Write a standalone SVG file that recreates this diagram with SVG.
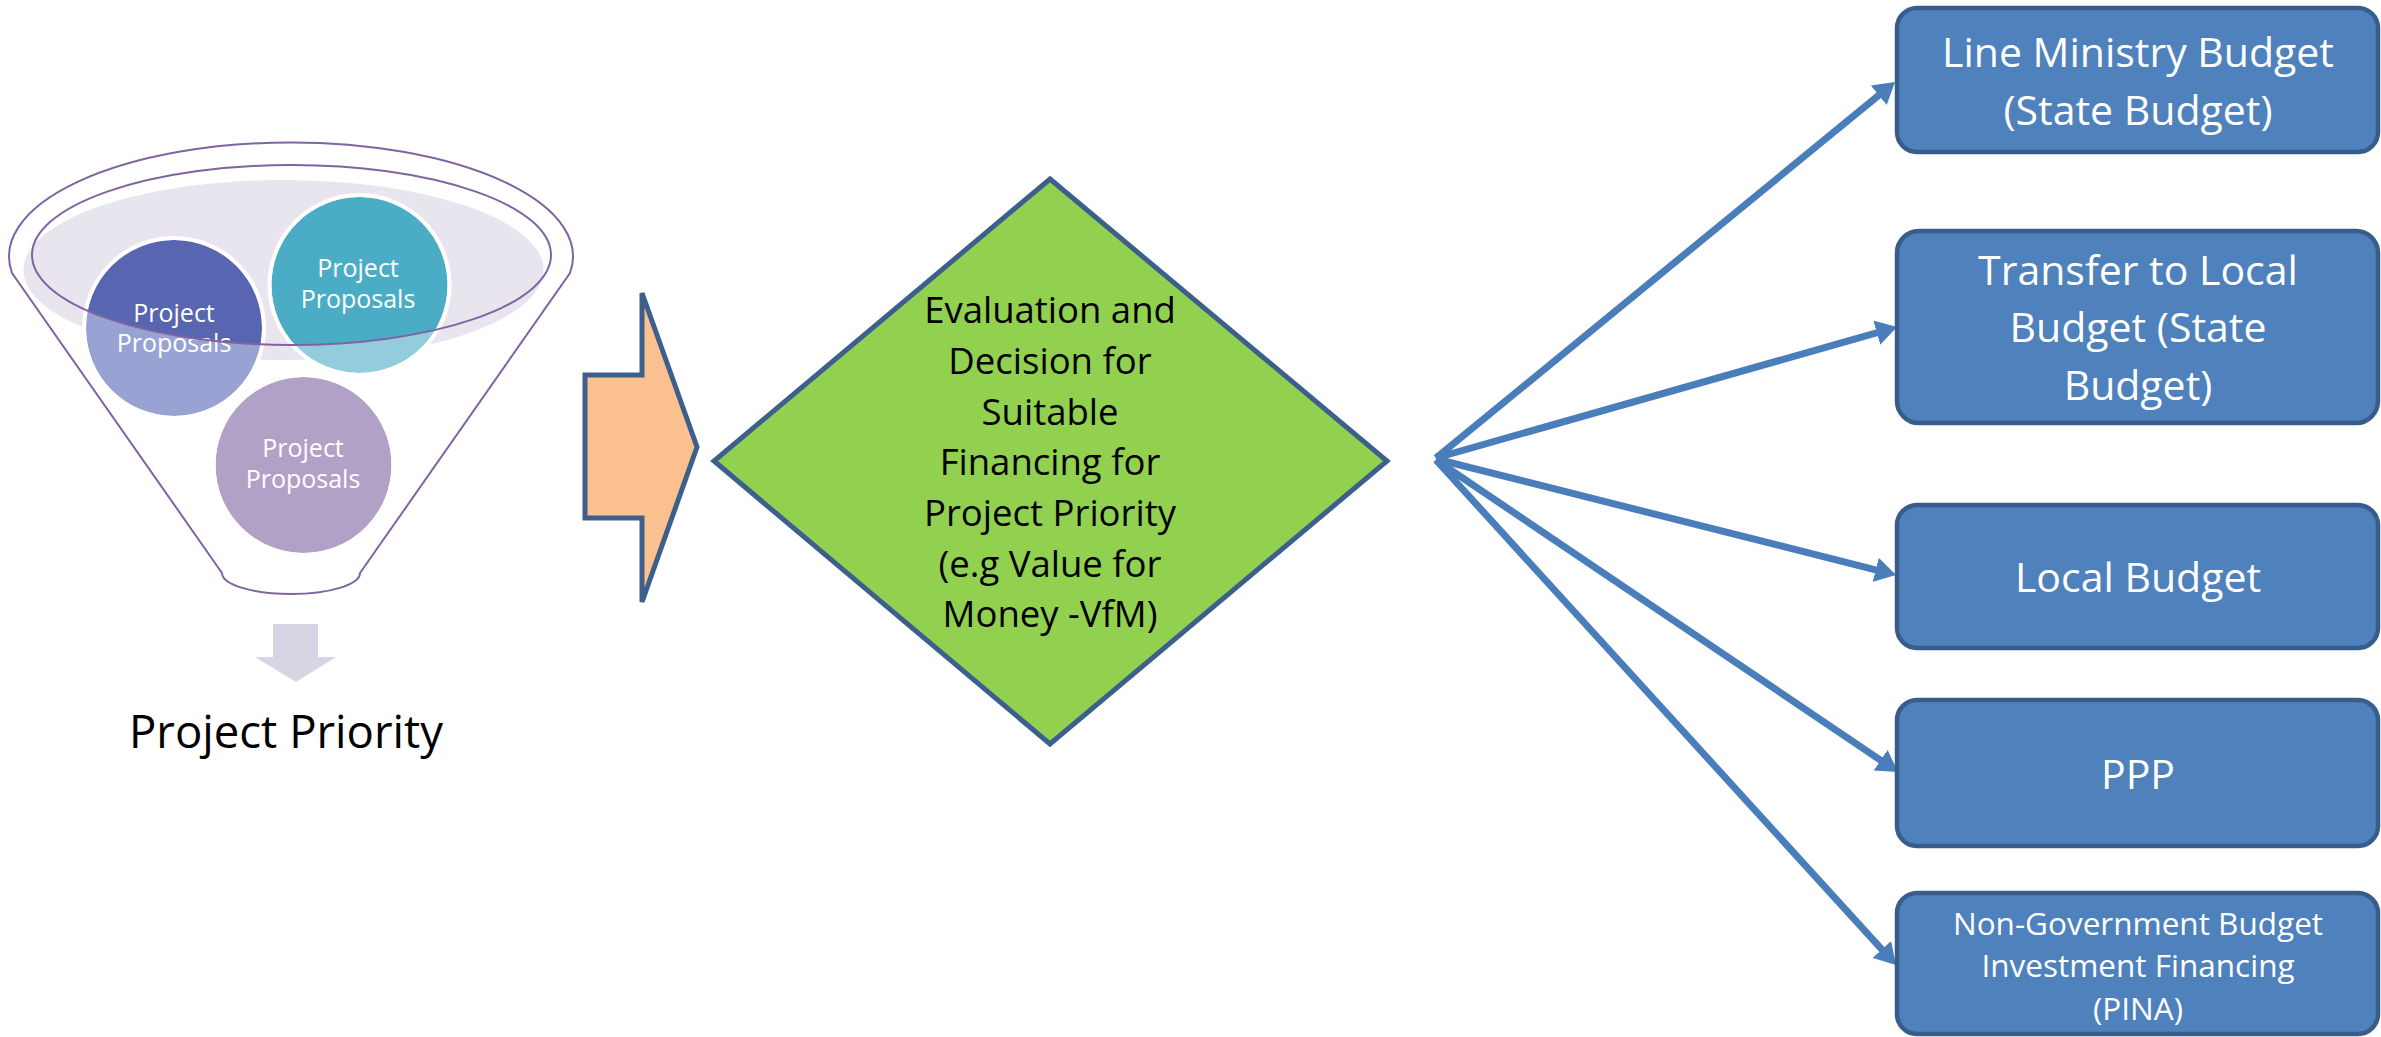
<svg xmlns="http://www.w3.org/2000/svg" width="2381" height="1037" viewBox="0 0 2381 1037">
<style>
text { font-family: "Open Sans", "Liberation Sans", sans-serif; text-anchor: middle; }
.box rect { fill: #4f81bd; stroke: #385d8a; stroke-width: 4.5; }
.box text { fill: #ffffff; font-size: 41px; }
.box text.small { font-size: 31.5px; }
.circ text { fill: #ffffff; font-size: 25px; }
.ring { fill: none; stroke: #ffffff; stroke-width: 4; }
.funnel-line { fill: none; stroke: #8064a2; stroke-width: 2; }
.conn line { stroke: #4a7ebb; stroke-width: 7; marker-end: url(#ah); }
.dtext { fill: #000000; font-size: 36.5px; }
</style>
<defs>
<marker id="ah" markerUnits="userSpaceOnUse" markerWidth="21" markerHeight="25" viewBox="0 0 21 25" refX="6" refY="12.5" orient="auto">
<path d="M0,0 L21,12.5 L0,25 Z" fill="#4a7ebb"/>
</marker>
<clipPath id="inner"><ellipse cx="291.5" cy="255" rx="259.5" ry="90"/></clipPath>
</defs>
<rect width="2381" height="1037" fill="#ffffff"/>

<g id="funnel">
<ellipse cx="283.5" cy="270" rx="260" ry="90" fill="#e8e5ee"/>
<g id="proposal-left" class="circ">
<circle cx="174" cy="328" r="88" fill="#99a3d3"/>
<circle cx="174" cy="328" r="88" fill="#5865b0" clip-path="url(#inner)"/>
<circle cx="174" cy="328" r="90" class="ring"/>
<text x="174" y="322">Project</text>
<text x="174" y="352">Proposals</text>
</g>
<g id="proposal-right" class="circ">
<circle cx="359.5" cy="285" r="88" fill="#93cddd"/>
<circle cx="359.5" cy="285" r="88" fill="#4bacc6" clip-path="url(#inner)"/>
<circle cx="359.5" cy="285" r="90" class="ring"/>
<text x="358" y="277">Project</text>
<text x="358" y="308">Proposals</text>
</g>
<g id="proposal-bottom" class="circ">
<circle cx="303.5" cy="465" r="88" fill="#b1a1c7"/>
<circle cx="303.5" cy="465" r="90" class="ring"/>
<text x="303" y="457">Project</text>
<text x="303" y="488">Proposals</text>
</g>
<ellipse cx="291.5" cy="255" rx="259.5" ry="90" class="funnel-line"/>
<path class="funnel-line" d="M12,273 A282,114 0 1 1 570,273 L360,573 A69,21 0 0 1 222,573 Z"/>
</g>

<g id="priority">
<polygon points="273,624 318,624 318,657 336,657 296,682 255,657 273,657" fill="#d8d4e4"/>
<text x="286" y="748" font-size="45.5" fill="#000000">Project Priority</text>
</g>

<g id="orange-arrow">
<polygon points="585,375 642,375 642,293 697,447 642,602 642,518 585,518" fill="#fac090" stroke="#3c5f8c" stroke-width="5" stroke-linejoin="miter"/>
</g>

<g id="decision">
<polygon points="1050,179 1387,461 1050,744 714,461" fill="#92d050" stroke="#3c5f8c" stroke-width="5"/>
<text class="dtext" x="1050" y="323">Evaluation and</text>
<text class="dtext" x="1050" y="374">Decision for</text>
<text class="dtext" x="1050" y="425">Suitable</text>
<text class="dtext" x="1050" y="475">Financing for</text>
<text class="dtext" x="1050" y="526">Project Priority</text>
<text class="dtext" x="1050" y="577">(e.g Value for</text>
<text class="dtext" x="1050" y="627">Money -VfM)</text>
</g>

<g id="connectors" class="conn">
<line x1="1436" y1="458" x2="1883.4" y2="91.5"/>
<line x1="1436" y1="458" x2="1882.6" y2="331.1"/>
<line x1="1436" y1="459" x2="1881.5" y2="571.3"/>
<line x1="1436" y1="460" x2="1885.6" y2="763.6"/>
<line x1="1436" y1="460" x2="1885.9" y2="953.9"/>
</g>

<g id="line-ministry" class="box">
<rect x="1897" y="8" width="481" height="144" rx="20"/>
<text x="2138" y="67">Line Ministry Budget</text>
<text x="2138" y="125">(State Budget)</text>
</g>
<g id="transfer-local" class="box">
<rect x="1897" y="231" width="481" height="192" rx="22"/>
<text x="2138" y="285">Transfer to Local</text>
<text x="2138" y="342">Budget (State</text>
<text x="2138" y="400">Budget)</text>
</g>
<g id="local-budget" class="box">
<rect x="1897" y="505" width="481" height="143" rx="20"/>
<text x="2138" y="592">Local Budget</text>
</g>
<g id="ppp" class="box">
<rect x="1897" y="700" width="481" height="146" rx="20"/>
<text x="2138" y="789">PPP</text>
</g>
<g id="pina" class="box">
<rect x="1897" y="893" width="481" height="141" rx="20"/>
<text class="small" x="2138" y="935">Non-Government Budget</text>
<text class="small" x="2138" y="977">Investment Financing</text>
<text class="small" x="2138" y="1020">(PINA)</text>
</g>
</svg>
